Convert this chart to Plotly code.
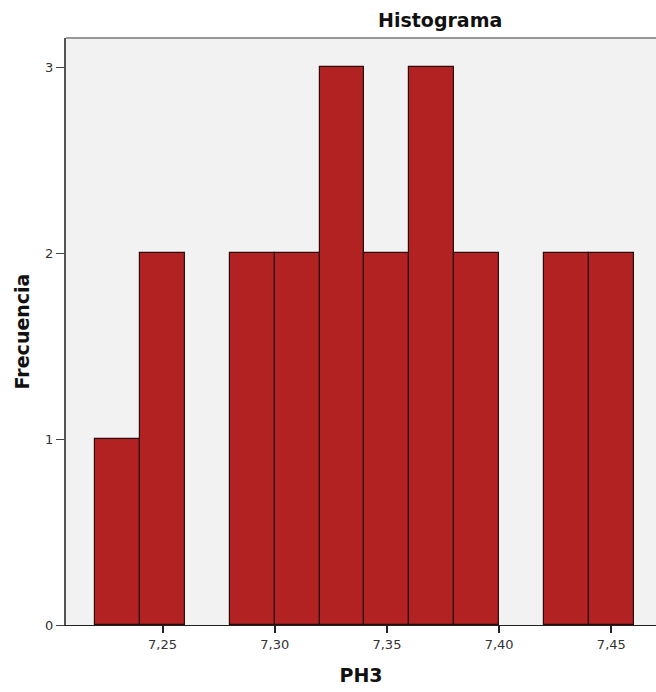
import plotly.graph_objects as go

bin_starts = [7.22, 7.24, 7.26, 7.28, 7.30, 7.32, 7.34, 7.36, 7.38, 7.40, 7.42, 7.44]
counts = [1, 2, 0, 2, 2, 3, 2, 3, 2, 0, 2, 2]
bin_width = 0.02
x_ticks = [7.25, 7.30, 7.35, 7.40, 7.45]
y_ticks = [0, 1, 2, 3]

# empty bins are not drawn
bar_y = [c if c > 0 else None for c in counts]

fig = go.Figure(go.Bar(
    x=bin_starts, y=bar_y, width=[bin_width] * len(bin_starts), offset=0,
    marker=dict(color="#B22222", line=dict(color="#2a0c0c", width=1.2)),
))

fnt = "DejaVu Sans"
fig.update_layout(
    width=656, height=692,
    margin=dict(l=66, r=0, t=38, b=67),
    paper_bgcolor="white", plot_bgcolor="#F2F2F2",
    separators=",.",
    showlegend=False, bargap=0,
    title=dict(text="<b>Histograma</b>", x=0.671, xanchor="center", y=0.971, yanchor="middle",
               font=dict(family=fnt, size=19, color="#111")),
    xaxis=dict(range=[7.2070, 7.4699], tickvals=x_ticks, tickformat=".2f",
               ticks="outside", ticklen=7, tickcolor="#222", tickwidth=1.5,
               showline=True, linecolor="#222", linewidth=1.2, showgrid=False, zeroline=False,
               tickfont=dict(family=fnt, size=13, color="#333"),
               title=dict(text="<b>PH3</b>", font=dict(family=fnt, size=19, color="#111"), standoff=17)),
    yaxis=dict(range=[0, 3.156], tickvals=y_ticks,
               ticks="outside", ticklen=8, tickcolor="#444", tickwidth=1.2,
               showline=True, linecolor="#555", linewidth=2, showgrid=False, zeroline=False,
               tickfont=dict(family=fnt, size=13, color="#333"),
               title=dict(text="<b>Frecuencia</b>", font=dict(family=fnt, size=19, color="#111"), standoff=10)),
)
fig.add_shape(type="line", xref="paper", yref="paper", x0=0, x1=1, y0=1, y1=1,
              line=dict(color="#999", width=2))
fig.write_html("out.html", config={"displayModeBar": False},
               post_script="document.body.style.margin='0';document.body.style.overflow='hidden';")
